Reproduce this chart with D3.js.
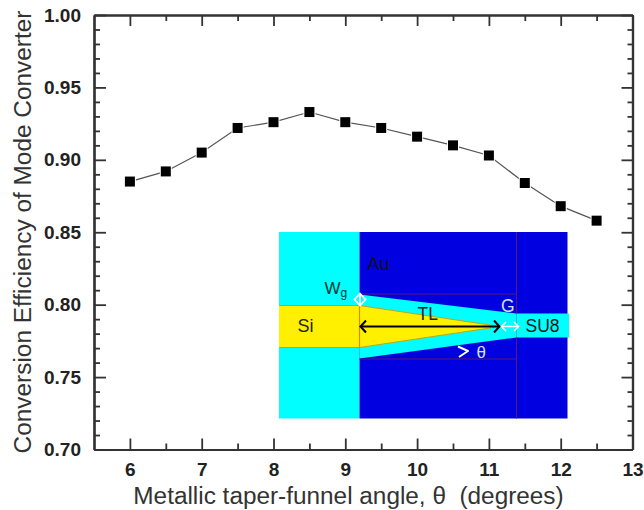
<!DOCTYPE html>
<html>
<head>
<meta charset="utf-8">
<script src="https://cdn.jsdelivr.net/npm/d3@7"></script>
<style>
  html, body { margin: 0; background: #fff; }
  text { font-family: "Liberation Sans", Arial, sans-serif; }
  .axis path, .axis line { stroke: #333; }
  .axis path { stroke-width: 2.2; }
  .axis line { stroke-width: 1.8; }
  .axis text { font-size: 19px; font-weight: bold; fill: #222; font-family: "Liberation Sans", Arial, sans-serif; }
</style>
</head>
<body>
<div id="chart"></div>
<script>
const angles = [6, 6.5, 7, 7.5, 8, 8.5, 9, 9.5, 10, 10.5, 11, 11.5, 12, 12.5];
const efficiency = [0.885, 0.892, 0.905, 0.922, 0.926, 0.933, 0.926, 0.922, 0.916, 0.910, 0.903, 0.884, 0.868, 0.858];
const xTicks = [6, 7, 8, 9, 10, 11, 12, 13];
const xMinor = [6.5, 7.5, 8.5, 9.5, 10.5, 11.5, 12.5];
const yTicks = [0.70, 0.75, 0.80, 0.85, 0.90, 0.95, 1.00];
const yMinor = d3.range(70, 100).filter(d => d % 5 != 0).map(d => d / 100);

const width = 644, height = 510;
const margin = {top: 15, right: 11.5, bottom: 60.5, left: 94};

const x = d3.scaleLinear().domain([5.5, 13]).range([margin.left, width - margin.right]);
const y = d3.scaleLinear().domain([0.70, 1.00]).range([height - margin.bottom, margin.top]);

const svg = d3.select('#chart').append('svg')
    .attr('width', width)
    .attr('height', height)
    .style('display', 'block');

// frame + ticks, all pointing inward
function addAxis(axisFn, scale, translate, values, size, labels, padding) {
    const a = axisFn(scale)
        .tickValues(values)
        .tickSizeOuter(0)
        .tickSizeInner(-size)
        .tickPadding(padding || 6)
        .tickFormat(labels || '');
    svg.append('g')
        .attr('class', 'axis')
        .attr('transform', translate)
        .call(a);
}

const bottomT = 'translate(0,' + (height - margin.bottom) + ')',
    topT = 'translate(0,' + margin.top + ')',
    leftT = 'translate(' + margin.left + ',0)',
    rightT = 'translate(' + (width - margin.right) + ',0)';

addAxis(d3.axisBottom, x, bottomT, xTicks, 11, d3.format('d'), 13);
addAxis(d3.axisBottom, x, bottomT, xMinor, 6);
addAxis(d3.axisTop, x, topT, xTicks, 11);
addAxis(d3.axisTop, x, topT, xMinor, 6);
addAxis(d3.axisLeft, y, leftT, yTicks, 12, d3.format('.2f'), 13);
addAxis(d3.axisLeft, y, leftT, yMinor, 6);
addAxis(d3.axisRight, y, rightT, yTicks, 11);
addAxis(d3.axisRight, y, rightT, yMinor, 5);

// axis titles
svg.append('text')
    .attr('x', 348.5)
    .attr('y', 504)
    .attr('text-anchor', 'middle')
    .attr('font-size', 24.35)
    .attr('fill', '#333')
    .attr('xml:space', 'preserve')
    .style('white-space', 'pre')
    .text('Metallic taper-funnel angle, θ  (degrees)');

svg.append('text')
    .attr('transform', 'translate(31,232) rotate(-90)')
    .attr('text-anchor', 'middle')
    .attr('font-size', 24.4)
    .attr('fill', '#333')
    .text('Conversion Efficiency of Mode Converter');

// curve
const pts = angles.map((a, i) => [a, efficiency[i]]);
const line = d3.line().x(d => x(d[0])).y(d => y(d[1]));

svg.append('path')
    .attr('d', line(pts))
    .attr('fill', 'none')
    .attr('stroke', '#555')
    .attr('stroke-width', 1.2);

svg.selectAll('.pt')
    .data(pts)
    .enter()
    .append('rect')
    .attr('class', 'pt')
    .attr('x', d => x(d[0]) - 5)
    .attr('y', d => y(d[1]) - 5)
    .attr('width', 10)
    .attr('height', 10)
    .attr('fill', '#000')
    .attr('stroke', '#fff')
    .attr('stroke-width', 2)
    .style('paint-order', 'stroke');

// inset schematic of the converter, in page pixels
const inset = svg.append('g');
const poly = (p, fill) => inset.append('polygon').attr('points', p.join(' ')).attr('fill', fill);
const seg = (a, b, color, w) => inset.append('line')
    .attr('x1', a[0]).attr('y1', a[1]).attr('x2', b[0]).attr('y2', b[1])
    .attr('stroke', color).attr('stroke-width', w || 1);
const label = (s, px, py, color, size, anchor) => inset.append('text')
    .attr('x', px).attr('y', py)
    .attr('fill', color)
    .attr('font-size', size)
    .attr('text-anchor', anchor || 'start')
    .text(s);

const xa = 279, xb = 359.5, xc = 516.5, xd = 567.5, xe = 569;
const ya = 232, yd = 418.5;

poly([[xa, ya], [xb, ya], [xb, yd], [xa, yd]], '#00ffff');
poly([[xb, ya], [xd, ya], [xd, yd], [xb, yd]], '#0000e0');
poly([[xb, 294.5], [xc, 313.5], [xc, 337.5], [xb, 358.5]], '#00ffff');
poly([[xc, 313.5], [xe, 313.5], [xe, 337.5], [xc, 337.5]], '#00ffff');
poly([[xa, 305.5], [xb, 305.5], [500, 326.5], [xb, 347.5], [xa, 347.5]], '#fff000');

seg([xa, 305.5], [xb, 305.5], '#b8a820');
seg([xa, 347.5], [xb, 347.5], '#b8a820');
seg([xb, 305.5], [500, 326.5], '#b8a820');
seg([xb, 347.5], [500, 326.5], '#b8a820');
seg([xb, 305.5], [xb, 347.5], '#c89000', 1.2);
seg([xb, 294], [xc, 294], '#5a1a6a');
seg([xb, 359], [xc, 359], '#5a1a6a');
seg([xc, ya], [xc, 313.5], '#5a1a6a');
seg([xc, 337.5], [xc, yd], '#5a1a6a');

// TL arrow
seg([361, 326.5], [499, 326.5], '#000', 2);
inset.append('path').attr('d', 'M366,320.5 L360.5,326.5 L366,332.5')
    .attr('fill', 'none').attr('stroke', '#000').attr('stroke-width', 2);
inset.append('path').attr('d', 'M494,320.5 L499.5,326.5 L494,332.5')
    .attr('fill', 'none').attr('stroke', '#000').attr('stroke-width', 2);

// G arrow
seg([502, 326.5], [518, 326.5], '#fff', 1.5);
inset.append('path').attr('d', 'M506,322 L501.5,326.5 L506,331 M514,322 L518.5,326.5 L514,331')
    .attr('fill', 'none').attr('stroke', '#fff').attr('stroke-width', 1.5);

// Wg marker
inset.append('path').attr('d', 'M360,293.5 L365.5,299.5 L360,305.5 L354.5,299.5 Z M360,293.5 L360,305.5')
    .attr('fill', 'none').attr('stroke', '#fff').attr('stroke-width', 1.8);

// angle mark
inset.append('path').attr('d', 'M458,346.5 L468,351 L459,357')
    .attr('fill', 'none').attr('stroke', '#fff').attr('stroke-width', 2)
    .attr('stroke-linejoin', 'round');

label('Au', 367.5, 270, '#111', 18);
label('Si', 297.5, 332, '#222', 18);
label('TL', 417.5, 320, '#222', 17.5);
label('SU8', 525.5, 332, '#111', 17.5);
label('G', 501, 312, '#d8e0ff', 17.5);
label('θ', 476.5, 358, '#d8e0ff', 17);
const wg = label('W', 324.5, 294, '#033', 17);
wg.append('tspan').attr('font-size', 12).attr('dy', 3).text('g');
</script>
</body>
</html>
